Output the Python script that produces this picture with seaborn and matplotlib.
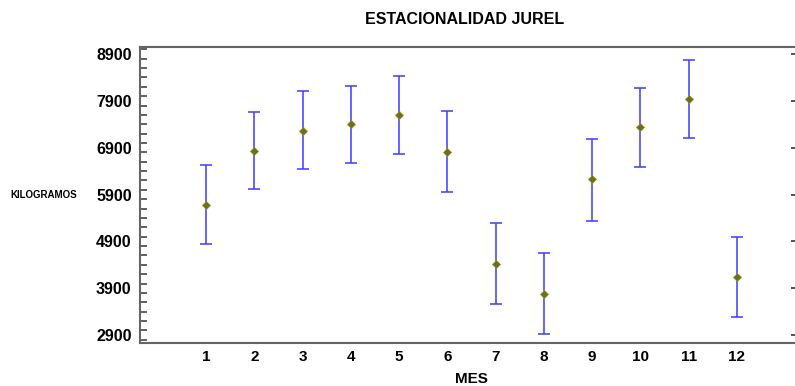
import matplotlib
matplotlib.use('Agg')
import matplotlib.pyplot as plt
from matplotlib.ticker import MultipleLocator
import seaborn as sns
import pandas as pd

# valores (media e intervalo por mes)
meses = [1, 2, 3, 4, 5, 6, 7, 8, 9, 10, 11, 12]
media = [5680, 6834, 7255, 7397, 7597, 6813, 4413, 3779, 6222, 7340, 7932, 4135]
inferior = [4840, 6015, 6436, 6578, 6770, 5951, 3573, 2917, 5339, 6485, 7112, 3280]
superior = [6528, 7654, 8102, 8223, 8437, 7682, 5282, 4655, 7091, 8181, 8765, 4983]
yticks = [2900, 3900, 4900, 5900, 6900, 7900, 8900]

df = pd.DataFrame({'MES': meses, 'KILOGRAMOS': media})
err_low = [m - lo for m, lo in zip(media, inferior)]
err_up = [hi - m for m, hi in zip(media, superior)]

sns.set_style('white')
plt.rcParams['font.family'] = ['Liberation Sans', 'DejaVu Sans']
plt.rcParams['text.color'] = 'black'
plt.rcParams['axes.labelcolor'] = 'black'
plt.rcParams['xtick.color'] = 'black'
plt.rcParams['ytick.color'] = 'black'

fig = plt.figure(figsize=(7.95, 3.86), dpi=100)
ax = fig.add_axes([140 / 795, 1 - 343 / 386, 663 / 795, 296 / 386])

ax.errorbar(meses, media, yerr=[err_low, err_up], fmt='none',
            ecolor='#3c3cff', elinewidth=1.1, capsize=4.5, capthick=1.1, zorder=2)
sns.scatterplot(data=df, x='MES', y='KILOGRAMOS', marker='D', s=18,
                color='#707010', edgecolor='#9a9a30', linewidth=0.4, ax=ax, zorder=3)

ax.set_xlim(-0.37, 13.37)
ax.set_ylim(2730, 9050)
ax.set_xticks(meses)
ax.set_yticks(yticks)
ax.yaxis.set_minor_locator(MultipleLocator(200))
ax.tick_params(axis='x', length=0, labelsize=11, pad=5)
ax.tick_params(axis='y', which='major', direction='in', length=9, width=1.3,
               color='#444444', labelsize=11.5, right=True, pad=6)
ax.tick_params(axis='y', which='minor', direction='in', length=5, width=1.2,
               color='#444444', left=True, right=False)
for lab in ax.get_xticklabels() + ax.get_yticklabels():
    lab.set_fontweight('bold')

for side in ['left', 'bottom', 'top']:
    ax.spines[side].set_color('#666666')
    ax.spines[side].set_linewidth(1.5)
ax.spines['right'].set_visible(False)

ax.set_xlabel('MES', fontsize=11, fontweight='bold', labelpad=6)
ax.set_ylabel('')
fig.text(10 / 795, 1 - 195 / 386, 'KILOGRAMOS', fontsize=7, fontweight='bold',
         ha='left', va='center')
fig.text(465 / 795, 1 - 20 / 386, 'ESTACIONALIDAD JUREL', fontsize=11.5,
         fontweight='bold', ha='center', va='center')

fig.savefig('out.png', dpi=100)
plt.close(fig)
